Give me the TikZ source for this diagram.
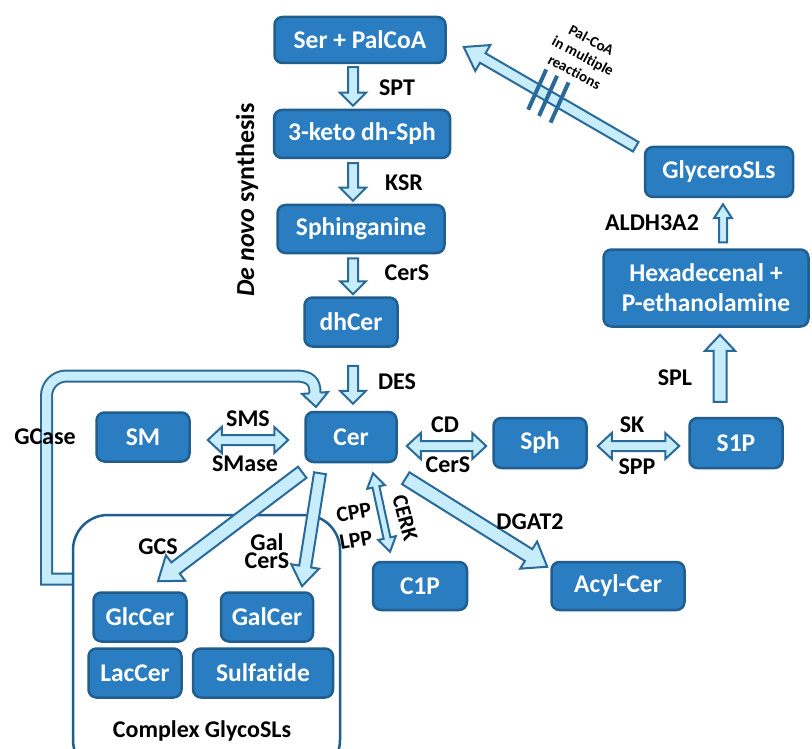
\documentclass[tikz,border=0pt]{standalone}
\usepackage{fontspec}
\setmainfont{Carlito}[Ligatures=NoCommon]
\usetikzlibrary{calc}
\definecolor{nodefill}{HTML}{2A7DC0}
\definecolor{nodeline}{HTML}{1F5E8E}
\definecolor{arrfill}{HTML}{C7ECFB}
\definecolor{arrline}{HTML}{2A6A99}
\tikzset{
  box/.style={draw=nodeline, line width=2.5pt, fill=nodefill, rounded corners=8pt, text=white,
    font=\fontsize{25.5}{30}\selectfont\bfseries, inner sep=0pt, align=center},
  sz/.style 2 args={minimum width=#1pt, minimum height=#2pt},
  lab/.style={font=\fontsize{24}{18}\selectfont\bfseries, text=black, inner sep=0pt, align=center},
  smalllab/.style={font=\fontsize{22}{24}\selectfont\bfseries, text=black, inner sep=0pt},
  arr/.style={draw=arrline, fill=arrfill, line width=2pt, line join=miter},
  hatch/.style={draw=arrline, line width=4pt},
}
% single block arrow: start, tip, shaft half width, head half width, head length
\newcommand{\blockarr}[5]{%
  \coordinate (tmpC) at ($(#2)!#5!(#1)$);
  \filldraw[arr] ($(#1)!#3!90:(#2)$) -- ($(tmpC)!#3!-90:(#1)$) -- ($(tmpC)!#4!-90:(#1)$) -- (#2)
    -- ($(tmpC)!#4!90:(#1)$) -- ($(tmpC)!#3!90:(#1)$) -- ($(#1)!#3!-90:(#2)$) -- cycle;
}
% double block arrow
\newcommand{\dblarr}[5]{%
  \coordinate (tmpA) at ($(#1)!#5!(#2)$);
  \coordinate (tmpB) at ($(#2)!#5!(#1)$);
  \filldraw[arr] (#1) -- ($(tmpA)!#4!90:(#2)$) -- ($(tmpA)!#3!90:(#2)$) -- ($(tmpB)!#3!-90:(#1)$)
    -- ($(tmpB)!#4!-90:(#1)$) -- (#2) -- ($(tmpB)!#4!90:(#1)$) -- ($(tmpB)!#3!90:(#1)$)
    -- ($(tmpA)!#3!-90:(#2)$) -- ($(tmpA)!#4!-90:(#2)$) -- cycle;
}
\begin{document}
\begin{tikzpicture}[x=1pt,y=-1pt]
\clip (0,0) rectangle (812,749);
\fill[white] (0,0) rectangle (812,749);

% ---- main nodes
\node[box, sz={171}{46}] (ser) at (360,40) {Ser + PalCoA};
\node[box, sz={176}{48}] (keto) at (362,134) {3-keto dh-Sph};
\node[box, sz={167}{48}] (sphg) at (361,229) {Sphinganine};
\node[box, sz={93}{49}] (dhcer) at (351,322) {dhCer};
\node[box, sz={91}{50}] (cer) at (351,437) {Cer};
\node[box, sz={93}{49}] (sm) at (143,437) {SM};
\node[box, sz={93}{50}] (sph) at (540,443) {Sph};
\node[box, sz={93}{50}] (s1p) at (736,443) {S1P};
\node[box, sz={94}{48}] (c1p) at (420,586) {C1P};
\node[box, sz={133}{48}] (acyl) at (618,586) {Acyl-Cer};
\node[box, sz={148}{50}] (glycero) at (719,172) {GlyceroSLs};
\node[box, sz={205}{77}] (hexa) at (706,288) {Hexadecenal +\\P-ethanolamine};

% ---- GCase loop (drawn before container)
\coordinate (gc0) at (73,579);
\coordinate (gcb) at (315,393);
\coordinate (gct) at (316,407);
\draw[arrline, line width=13pt, line join=miter] (gc0) -- (46.5,579) -- (46.5,396)
  arc[start angle=180, end angle=270, radius=20] -- (295,376) .. controls (311,376) and (315,382) .. (gcb);
\draw[arrfill, line width=9pt, line join=miter] (gc0) -- (46.5,579) -- (46.5,396)
  arc[start angle=180, end angle=270, radius=20] -- (295,376) .. controls (311,376) and (315,382) .. (gcb);
\fill[arrfill] ($(gcb)!5.5pt!90:(gct)$) -- ($(gcb)!13pt!90:(gct)$) -- (gct) -- ($(gcb)!13pt!-90:(gct)$) -- ($(gcb)!5.5pt!-90:(gct)$) -- cycle;
\draw[arrline, line width=2pt, line join=miter] ($(gcb)!5.5pt!90:(gct)$) -- ($(gcb)!13pt!90:(gct)$) -- (gct) -- ($(gcb)!13pt!-90:(gct)$) -- ($(gcb)!5.5pt!-90:(gct)$);

% ---- complex glycosphingolipids container
\node[draw=nodeline, line width=2.5pt, rounded corners=35pt, fill=white, minimum width=267pt, minimum height=260pt, inner sep=0pt] (cplx) at (206.5,645) {};
\node[box, sz={93}{49}] (glc) at (140,617) {GlcCer};
\node[box, sz={92}{49}] (gal) at (267,617) {GalCer};
\node[box, sz={93}{49}] (lac) at (135,673) {LacCer};
\node[box, sz={140}{49}] (sulf) at (263,673) {Sulfatide};
\node[lab] (cplxlab) at (202,731) {Complex GlycoSLs};

% ---- de novo chain arrows
\coordinate (a1) at ($(ser.south -| cer)+(2,3)$);
\coordinate (a2) at ($(keto.north -| cer)+(2,-3)$);
\blockarr{a1}{a2}{5pt}{13pt}{13pt}
\coordinate (b1) at ($(keto.south -| cer)+(2,4)$);
\coordinate (b2) at ($(sphg.north -| cer)+(2,-3)$);
\blockarr{b1}{b2}{5pt}{13pt}{13pt}
\coordinate (c1) at ($(sphg.south -| cer)+(2,4)$);
\coordinate (c2) at ($(dhcer.north -| cer)+(2,-2)$);
\blockarr{c1}{c2}{5pt}{13pt}{13pt}
\coordinate (d1) at ($(dhcer.south -| cer)+(2,18)$);
\coordinate (d2) at ($(cer.north)+(2,-7)$);
\blockarr{d1}{d2}{5pt}{13pt}{13pt}

% ---- horizontal double arrows
\coordinate (e1) at ($(sm.east)+(17,3)$);
\coordinate (e2) at ($(cer.west)+(-16,3)$);
\dblarr{e1}{e2}{5pt}{13pt}{14pt}
\coordinate (f1) at ($(cer.east |- sph.center)+(9,3)$);
\coordinate (f2) at ($(sph.west)+(-6,3)$);
\dblarr{f1}{f2}{5pt}{13pt}{14pt}
\coordinate (g1) at ($(sph.east)+(10,3)$);
\coordinate (g2) at ($(s1p.west)+(-9,3)$);
\dblarr{g1}{g2}{5pt}{13pt}{14pt}

% ---- right side
\coordinate (h1) at ($(s1p.north)+(-16,-15)$);
\coordinate (h2) at ($(hexa.south -| h1)+(0,7)$);
\blockarr{h1}{h2}{6.5pt}{15pt}{16pt}
\coordinate (i1) at ($(hexa.north)+(17,-6)$);
\coordinate (i2) at ($(glycero.south -| i1)+(0,6)$);
\blockarr{i1}{i2}{4pt}{9pt}{14pt}
\coordinate (j1) at ($(glycero.north west)+(-8,1)$);
\coordinate (j2) at ($(ser.east)+(17,7)$);
\blockarr{j1}{j2}{5.5pt}{15pt}{22pt}
\foreach \f in {0.443,0.51,0.573}{
  \draw[hatch] ($($(j1)!\f!(j2)$)!22pt!96:(j2)$) -- ($($(j1)!\f!(j2)$)!22pt!-84:(j2)$);
}

% ---- from Cer downwards
\coordinate (k1) at ($(cer.south west)+(-2,9)$);
\coordinate (k2) at ($(glc.north)+(18,-10)$);
\blockarr{k1}{k2}{7pt}{16pt}{22pt}
\coordinate (l1) at ($(cer.south)+(-31,10)$);
\coordinate (l2) at ($(gal.north)+(35,-5)$);
\blockarr{l1}{l2}{6pt}{14pt}{20pt}
\coordinate (m1) at ($(cer.south)+(22,10)$);
\coordinate (m2) at ($(c1p.north)+(-30,-9)$);
\dblarr{m1}{m2}{3.5pt}{9pt}{14pt}
\coordinate (n1) at ($(cer.south east)+(8,15)$);
\coordinate (n2) at ($(acyl.north west)+(-3,6)$);
\blockarr{n1}{n2}{7pt}{16pt}{22pt}

% ---- labels
\node[lab] (lspt) at (397,88) {SPT};
\node[lab] (lksr) at (404,183) {KSR};
\node[lab] (lcers1) at (407,273) {CerS};
\node[lab] (ldes) at (397,382) {DES};
\node[lab] (lsms) at (248,419) {SMS};
\node[lab] (lsmase) at (245,464) {SMase};
\node[lab] (lgcase) at (45,437) {GCase};
\node[lab] (lcd) at (445,425) {CD};
\node[lab] (lcers2) at (448,465) {CerS};
\node[lab] (lsk) at (632,425) {SK};
\node[lab] (lspp) at (637,467) {SPP};
\node[lab] (lspl) at (675,378) {SPL};
\node[lab] (laldh) at (652,223) {ALDH3A2};
\node[lab] (lgcs) at (158,547) {GCS};
\node[lab] (lgal) at (267,551) {Gal\\CerS};
\node[smalllab, rotate=10] (lcpp) at (354,512) {CPP};
\node[smalllab, rotate=10] (llpp) at (356,540) {LPP};
\node[smalllab, rotate=-75] (lcerk) at (405,518) {CERK};
\node[lab] (ldgat) at (530,522) {DGAT2};
\node[font=\fontsize{26}{28}\selectfont\bfseries, rotate=90, inner sep=0pt] (ldenovo) at (247,200) {\textit{De novo} synthesis};
\node[font=\fontsize{15}{18}\selectfont\bfseries, rotate=-28, align=center, inner sep=0pt] (lpal) at (583,56) {Pal-CoA\\in multiple\\reactions};
\end{tikzpicture}
\end{document}
